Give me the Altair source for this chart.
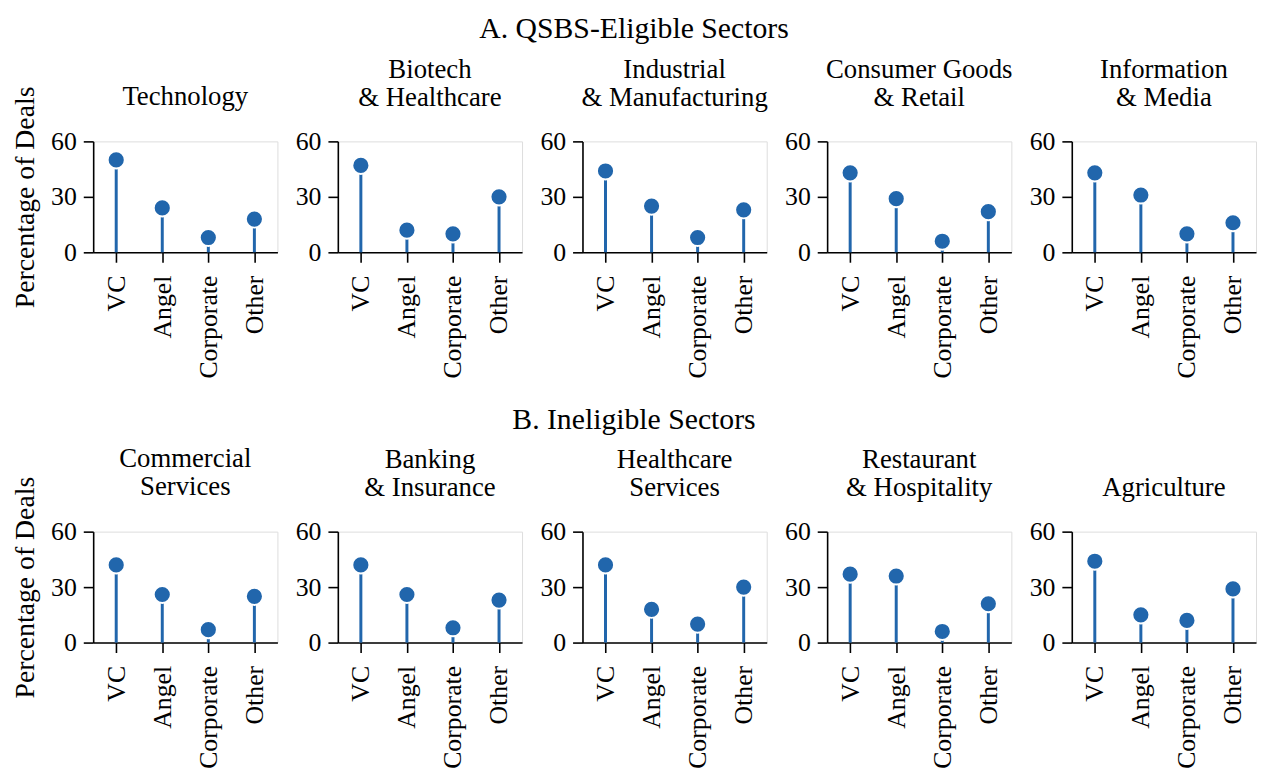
import altair as alt
import pandas as pd

investors = ["VC", "Angel", "Corporate", "Other"]

# Panel A: QSBS-eligible sectors
eligible_titles = [["Technology"], ["Biotech", "& Healthcare"], ["Industrial", "& Manufacturing"],
                   ["Consumer Goods", "& Retail"], ["Information", "& Media"]]
technology = [50, 24, 8, 18]
biotech = [47, 12, 10, 30]
industrial = [44, 25, 8, 23]
consumer = [43, 29, 6, 22]
information = [43, 31, 10, 16]
eligible_values = [technology, biotech, industrial, consumer, information]

# Panel B: ineligible sectors
ineligible_titles = [["Commercial", "Services"], ["Banking", "& Insurance"], ["Healthcare", "Services"],
                     ["Restaurant", "& Hospitality"], ["Agriculture"]]
commercial = [42, 26, 7, 25]
banking = [42, 26, 8, 23]
healthcare_services = [42, 18, 10, 30]
restaurant = [37, 36, 6, 21]
agriculture = [44, 15, 12, 29]
ineligible_values = [commercial, banking, healthcare_services, restaurant, agriculture]

FONT = "Liberation Serif"
BLUE = "#2166ac"
W, H = 186, 112


def panel(title_lines, values, first):
    df = pd.DataFrame({"investor": investors, "pct": values})
    base = alt.Chart(df)
    x = alt.X(
        "investor:N",
        sort=investors,
        scale=alt.Scale(type="point", padding=0.5),
        axis=alt.Axis(
            title=None, labelAngle=270, labelFontSize=26, labelFont=FONT, labelColor="black",
            tickSize=10, tickWidth=1.6, tickColor="black", domainColor="black", domainWidth=1.6,
            labelPadding=13, grid=False,
        ),
    )
    y = alt.Y(
        "pct:Q",
        scale=alt.Scale(domain=[0, 60], nice=False),
        axis=alt.Axis(
            title="Percentage of Deals" if first else None,
            values=[0, 30, 60], labelFontSize=26, labelFont=FONT, labelColor="black",
            titleFontSize=28, titleFont=FONT, titleFontWeight="normal", titleColor="black",
            titlePadding=11,
            tickSize=10, tickWidth=1.6, tickColor="black", domainColor="black", domainWidth=1.6,
            labelPadding=7, grid=False,
        ),
    )
    stems = base.mark_rule(color=BLUE, strokeWidth=3).encode(x=x, y=y, y2=alt.datum(0))
    dots = base.mark_point(filled=True, fill=BLUE, fillOpacity=1, stroke="white",
                           strokeWidth=2, strokeOpacity=1, size=300, shape="circle").encode(x=x, y=y)
    title_text = title_lines if len(title_lines) > 1 else title_lines[0]
    return alt.layer(stems, dots).properties(
        width=W, height=H,
        title=alt.TitleParams(text=title_text, font=FONT, fontSize=27, fontWeight="normal",
                              color="black", anchor="middle", frame="group", lineHeight=28,
                              offset=(17 - 42) if first else 17),
    )


row_a = alt.hconcat(
    *[panel(t, v, i == 0) for i, (t, v) in enumerate(zip(eligible_titles, eligible_values))],
    spacing=61, bounds="flush",
    title=alt.TitleParams(text="A. QSBS-Eligible Sectors", font=FONT, fontSize=30,
                          fontWeight="normal", color="black", anchor="middle", offset=12),
)
row_b = alt.hconcat(
    *[panel(t, v, i == 0) for i, (t, v) in enumerate(zip(ineligible_titles, ineligible_values))],
    spacing=61, bounds="flush",
    title=alt.TitleParams(text="B. Ineligible Sectors", font=FONT, fontSize=30,
                          fontWeight="normal", color="black", anchor="middle", offset=10),
)

chart = alt.vconcat(row_a, row_b, spacing=26).properties(
    padding={"left": 3, "top": 2, "right": 0, "bottom": 0}
).configure_view(stroke=None).configure(background="white")

chart.save("out.html", embed_options={"renderer": "svg", "actions": False})
